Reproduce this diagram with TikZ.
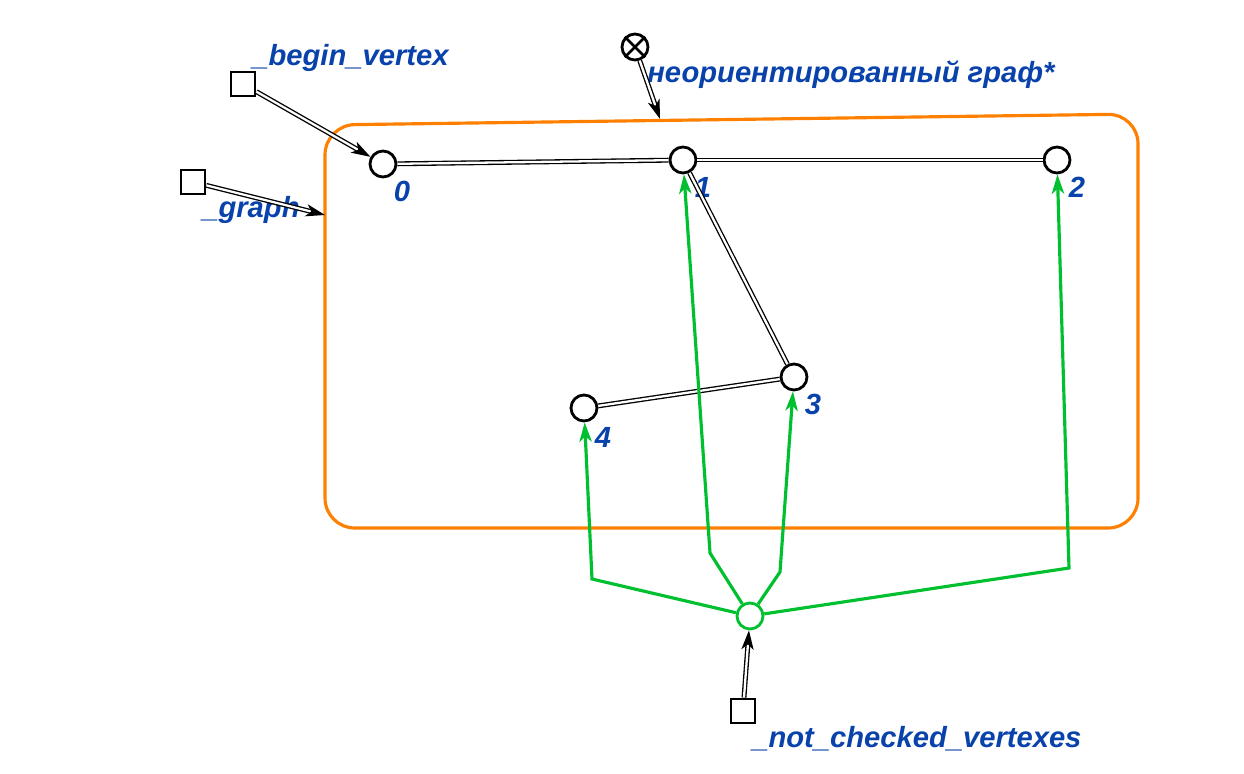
\documentclass[tikz,border=0pt]{standalone}
\usepackage{fontspec}
\setmainfont{Liberation Sans}
\usetikzlibrary{arrows.meta}
\definecolor{lblue}{RGB}{8,66,170}
\definecolor{sgreen}{RGB}{0,192,48}
\definecolor{sorange}{RGB}{255,128,0}
\tikzset{
  vert/.style={circle, draw=black, line width=1.6pt, fill=white, minimum size=0.52cm, inner sep=0pt},
  sq/.style={rectangle, draw=black, line width=1.6pt, fill=white, minimum size=0.48cm, inner sep=0pt},
  lbl/.style={text=lblue, font=\fontsize{16.6}{20}\selectfont\bfseries\itshape, inner sep=0pt},
  edge/.style={draw=black, line width=0.75pt, double=white, double distance=1.3pt},
  acc/.style={edge, -{Stealth[length=11pt,width=7pt,inset=3pt]}},
  mem/.style={draw=sgreen, line width=1.8pt, -{Stealth[length=11pt,width=7pt,inset=3pt]}},
  frame/.style={draw=sorange, line width=1.8pt, rounded corners=17pt},
}
\begin{document}
\begin{tikzpicture}[x=0.02cm, y=-0.02cm]
  \useasboundingbox (0,0) rectangle (1244,774);

  %%%%% frame of the graph %%%%%
  \coordinate (ftl) at (325,125);
  \coordinate (ftr) at (1138,114);
  \coordinate (fbr) at (1138,528);
  \coordinate (fbl) at (325,528);
  \draw[frame] (ftl) -- (ftr) -- (fbr) -- (fbl) -- cycle;
  \coordinate (ftop) at (660,119);
  \coordinate (fleft) at (325,215);

  %%%%% vertices %%%%%
  \node[vert] (v0) at (383,164) {};
  \node[vert] (v1) at (683,160) {};
  \node[vert] (v2) at (1057,160) {};
  \node[vert] (v3) at (794,377) {};
  \node[vert] (v4) at (584,408) {};
  \node[lbl] (l0) at (402,191) {0};
  \node[lbl] (l1) at (703,187) {1};
  \node[lbl] (l2) at (1077,187) {2};
  \node[lbl] (l3) at (813,404) {3};
  \node[lbl] (l4) at (603,437) {4};

  %%%%% edges %%%%%
  \draw[edge] (v0) -- (v1);
  \draw[edge] (v1) -- (v2);
  \draw[edge] (v1) -- (v3);
  \draw[edge] (v3) -- (v4);

  %%%%% set of not checked vertexes %%%%%
  \node[vert, draw=sgreen] (nc) at (750,616) {};
  \draw[mem] (nc) -- (592,579) -- (v4);
  \draw[mem] (nc) -- (710,553) -- (v1);
  \draw[mem] (nc) -- (780,572) -- (v3);
  \draw[mem] (nc) -- (1069,568) -- (v2);

  %%%%% variables %%%%%
  \node[sq] (bv) at (243,84) {};
  \node[lbl, anchor=base west] (tbv) at (252,65) {\_begin\_vertex};
  \draw[acc] (bv) -- (v0);

  \node[sq] (gr) at (193,182) {};
  \node[lbl, anchor=base west] (tgr) at (202,217) {\_graph};
  \draw[acc] (gr) -- (fleft);

  \node[sq] (ncv) at (743,711) {};
  \node[lbl, anchor=base west] (tncv) at (752,747) {\_not\_checked\_vertexes};
  \draw[acc] (ncv) -- (nc);

  \node[vert] (ug) at (635,47) {};
  \draw[line width=1.6pt] (ug.north east) -- (ug.south west) (ug.north west) -- (ug.south east);
  \node[lbl, anchor=base west] (tug) at (647,82) {неориентированный граф*};
  \draw[acc] (ug) -- (ftop);
\end{tikzpicture}
\end{document}
